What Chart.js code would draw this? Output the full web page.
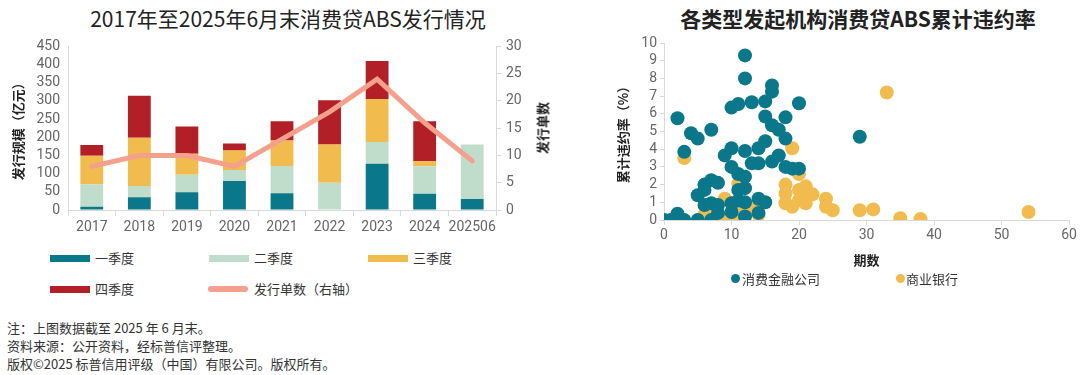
<!DOCTYPE html>
<html>
<head>
<meta charset="utf-8">
<script src="https://cdn.jsdelivr.net/npm/chart.js@4.4.0/dist/chart.umd.min.js"></script>
<style>
  body { margin: 0; width: 1080px; height: 375px; background: #fff; position: relative; overflow: hidden;
         font-family: "Noto Sans CJK SC", "Noto Sans", sans-serif; color: #222; }
  .title { position: absolute; top: 3px; font-size: 21px; white-space: nowrap; transform: translateX(-50%); }
  #barWrap { position: absolute; left: 0; top: 30px; width: 560px; height: 210px; }
  #scatterWrap { position: absolute; left: 600px; top: 30px; width: 480px; height: 242px; }
  .lg { position: absolute; font-size: 13px; color: #333; white-space: nowrap; line-height: 16px; }
  .sw { position: absolute; width: 40px; height: 7px; }
  .notes { position: absolute; left: 7px; top: 319px; font-size: 13px; line-height: 18px; color: #333; }
  .dot { position: absolute; width: 9px; height: 9px; border-radius: 50%; }
  .vtitle { position: absolute; font-size: 13px; font-weight: bold; white-space: nowrap;
            transform: translate(-50%, -50%) rotate(-90deg); }
</style>
</head>
<body>
<div class="title" style="left:288px;font-weight:normal">2017年至2025年6月末消费贷ABS发行情况</div>
<div class="title" style="left:858px;font-weight:bold">各类型发起机构消费贷ABS累计违约率</div>

<div id="barWrap"><canvas id="barChart"></canvas></div>
<div id="scatterWrap"><canvas id="scatterChart"></canvas></div>
<div class="vtitle" style="left:542px;top:128px">发行单数</div>

<!-- left legend -->
<div class="sw" style="left:50px;top:255px;background:#0b778a"></div>
<div class="lg" style="left:95px;top:250px">一季度</div>
<div class="sw" style="left:209px;top:255px;background:#c0dccb"></div>
<div class="lg" style="left:254px;top:250px">二季度</div>
<div class="sw" style="left:368px;top:255px;background:#f2bb4e"></div>
<div class="lg" style="left:413px;top:250px">三季度</div>
<div class="sw" style="left:50px;top:286px;background:#b31f27"></div>
<div class="lg" style="left:95px;top:281px">四季度</div>
<div class="sw" style="left:208px;top:286px;height:6px;border-radius:3px;background:#f5a08d"></div>
<div class="lg" style="left:254px;top:281px">发行单数（右轴）</div>

<!-- right legend -->
<div class="dot" style="left:731px;top:274px;background:#0b778a"></div>
<div class="lg" style="left:742px;top:271px">消费金融公司</div>
<div class="dot" style="left:896px;top:274px;background:#f2bb4e"></div>
<div class="lg" style="left:906px;top:271px">商业银行</div>

<div class="notes">
  注：上图数据截至 2025 年 6 月末。<br>
  资料来源：公开资料，经标普信评整理。<br>
  版权©2025 标普信用评级（中国）有限公司。版权所有。
</div>

<script>
const years = ["2017", "2018", "2019", "2020", "2021", "2022", "2023", "2024", "202506"];
const q1 = [9, 35, 49, 80, 46, 0, 127, 45, 30];
const q2 = [62, 31, 48, 30, 75, 75, 60, 75, 150];
const q3 = [78, 133, 58, 54, 70, 105, 118, 14, 0];
const q4 = [30, 115, 75, 19, 53, 122, 105, 110, 0];
const dealCount = [8, 10, 10, 8, 13, 18, 24, 16, 9];

const leftTicks = [0, 50, 100, 150, 200, 250, 300, 350, 400, 450];
const rightTicks = [0, 5, 10, 15, 20, 25, 30];
const scatterXTicks = [0, 10, 20, 30, 40, 50, 60];
const scatterYTicks = [0, 1, 2, 3, 4, 5, 6, 7, 8, 9, 10];

// [期数, 累计违约率%]
const financeCo = [
  [12, 9.3], [12, 8.0], [16, 7.6], [16, 7.25], [20, 6.6], [10, 6.35], [11, 6.55], [13, 6.65], [15, 6.7],
  [15, 5.85], [2, 5.75], [4, 4.9], [5, 4.6], [7, 5.1], [18, 5.8], [16, 5.35], [17, 5.1], [18, 4.6],
  [15, 4.45], [3, 3.85], [10, 4.05], [12, 3.9], [14, 4.05], [9, 3.65], [17, 3.65], [10, 3.0], [13, 3.2],
  [14, 3.2], [16, 3.3], [18, 3.0], [20, 2.9], [19, 2.9], [11, 2.6], [12, 2.45], [7, 2.25], [6, 2.0],
  [8, 2.1], [5, 1.4], [6, 1.7], [11, 1.7], [12, 1.8], [14, 1.2], [15, 1.0], [11, 1.1], [6, 0.85],
  [7, 0.95], [8, 0.85], [10, 0.95], [12, 1.0], [8, 0.4], [10, 0.45], [2, 0.35], [3, 0], [5, 0],
  [7, 0], [0, 0], [1, 0], [12, 0.2], [14, 0.4], [29, 4.7]
];
const commercialBank = [
  [0, 0], [2, 0], [3, 3.5], [6, 0.3], [7, 0.3], [9, 0], [11, 0], [9, 1.2], [11, 2.05], [11, 0.65],
  [12, 0.45], [13, 0.55], [14, 1.0], [14, 0.3], [19, 4.05], [20, 2.6], [18, 2.0], [18, 1.5], [18, 0.95],
  [19, 0.75], [20, 1.7], [21, 1.9], [21, 0.95], [22, 1.45], [20, 1.1], [24, 1.2], [24, 0.75], [25, 0.55],
  [21, 1.5], [33, 7.2], [29, 0.55], [31, 0.6], [35, 0.1], [38, 0.05], [54, 0.45]
];

const TEAL = "#0b778a", MINT = "#c0dccb", GOLD = "#f2bb4e", RED = "#b31f27", SALMON = "#f5a08d";
const tickFont = { family: "Roboto, 'Noto Sans', sans-serif", size: 14 };
const titleFont = { family: "'Noto Sans CJK SC', sans-serif", size: 13, weight: "bold" };
const axisGray = "#d9d9d9";
const tickGray = "#666666";

Chart.defaults.animation = false;
Chart.defaults.responsive = true;
Chart.defaults.maintainAspectRatio = false;

function fixedTicks(list) {
  return (s) => { s.ticks = list.map(v => ({ value: v })); };
}

function barSet(label, data, color) {
  return { type: "bar", label, data, backgroundColor: color, stack: "q", yAxisID: "y",
           barPercentage: 0.48, categoryPercentage: 1, borderWidth: 0, order: 1 };
}

new Chart(document.getElementById("barChart"), {
  data: {
    labels: years,
    datasets: [
      barSet("一季度", q1, TEAL),
      barSet("二季度", q2, MINT),
      barSet("三季度", q3, GOLD),
      barSet("四季度", q4, RED),
      { type: "line", label: "发行单数（右轴）", data: dealCount, yAxisID: "y1", borderColor: SALMON,
        borderWidth: 5, pointRadius: 0, tension: 0, fill: false, order: 0, borderCapStyle: "round" }
    ]
  },
  options: {
    layout: { padding: { top: 16, left: 0, right: 0, bottom: 0 } },
    plugins: { legend: { display: false }, tooltip: { enabled: false } },
    scales: {
      x: {
        stacked: true,
        grid: { display: true, drawOnChartArea: false, tickLength: 6, color: axisGray },
        border: { color: axisGray },
        ticks: { color: tickGray, font: tickFont, padding: 3, maxRotation: 0, autoSkip: false },
        afterFit: (s) => { s.height = 30; }
      },
      y: {
        stacked: true, min: 0, max: 450,
        afterBuildTicks: fixedTicks(leftTicks),
        grid: { display: true, drawOnChartArea: false, drawTicks: false },
        border: { color: axisGray },
        ticks: { color: tickGray, font: tickFont, padding: 8, autoSkip: false },
        title: { display: true, text: "发行规模（亿元）", color: "#222", font: titleFont, padding: { top: 10 } },
        afterFit: (s) => { s.width = 68; }
      },
      y1: {
        position: "right", min: 0, max: 30,
        afterBuildTicks: fixedTicks(rightTicks),
        grid: { display: true, drawOnChartArea: false, tickLength: 5, color: axisGray },
        border: { color: axisGray },
        ticks: { color: tickGray, font: tickFont, padding: 5, autoSkip: false },
        afterFit: (s) => { s.width = 64; }
      }
    }
  }
});

function pts(list) { return list.map(p => ({ x: p[0], y: p[1] })); }

new Chart(document.getElementById("scatterChart"), {
  type: "scatter",
  data: {
    datasets: [
      { label: "消费金融公司", data: pts(financeCo), backgroundColor: TEAL, pointRadius: 7, borderWidth: 0 },
      { label: "商业银行", data: pts(commercialBank), backgroundColor: GOLD, pointRadius: 7, borderWidth: 0 }
    ]
  },
  options: {
    layout: { padding: { top: 13, right: 11, left: 0, bottom: 0 } },
    plugins: { legend: { display: false }, tooltip: { enabled: false } },
    scales: {
      x: {
        min: 0, max: 60,
        afterBuildTicks: fixedTicks(scatterXTicks),
        ticks: { color: tickGray, font: tickFont, padding: 2, autoSkip: false, maxRotation: 0 },
        grid: { display: true, drawOnChartArea: false, tickLength: 5, color: axisGray },
        border: { color: axisGray },
        title: { display: true, text: "期数", color: "#222", font: titleFont, padding: { top: 4 } },
        afterFit: (s) => { s.height = 52; }
      },
      y: {
        min: 0, max: 10,
        afterBuildTicks: fixedTicks(scatterYTicks),
        ticks: { color: tickGray, font: tickFont, padding: 3, autoSkip: false },
        grid: { display: true, drawOnChartArea: false, tickLength: 4, color: axisGray },
        border: { color: axisGray },
        title: { display: true, text: "累计违约率（%）", color: "#222", font: titleFont, padding: { top: 15 } },
        afterFit: (s) => { s.width = 64; }
      }
    }
  }
});
</script>
</body>
</html>
